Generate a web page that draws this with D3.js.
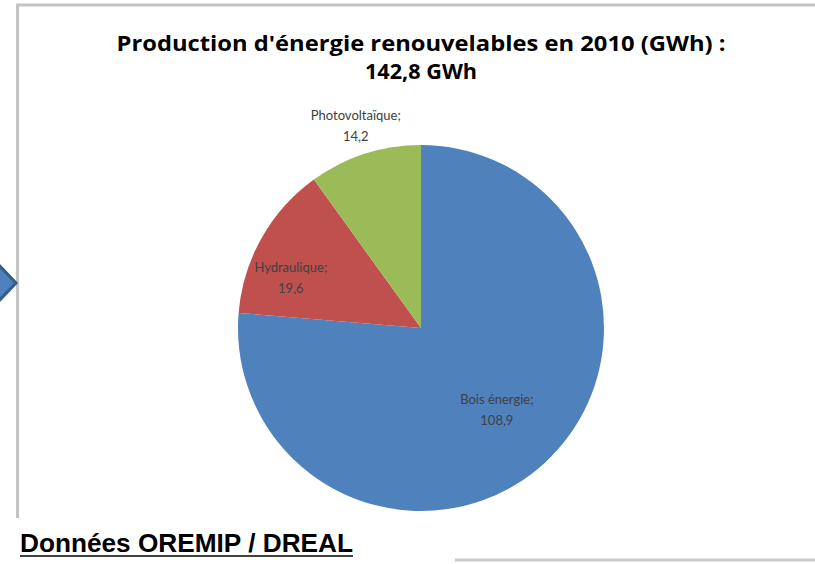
<!DOCTYPE html>
<html>
<head>
<meta charset="utf-8">
<script src="https://cdn.jsdelivr.net/npm/d3@7"></script>
<style>
  body { margin: 0; background: #fff; }
</style>
</head>
<body>
<div id="chart"></div>
<script>
// data
const categories = ["Bois énergie", "Hydraulique", "Photovoltaïque"];
const values = [108.9, 19.6, 14.2];
const valueLabels = ["108,9", "19,6", "14,2"];
const titleLines = ["Production d'énergie renouvelables en 2010 (GWh) :", "142,8 GWh"];
const sourceText = "Données OREMIP / DREAL";

const colors = ["#4F81BD", "#C0504D", "#9BBB59"];

const width = 815, height = 564;
const cx = 421, cy = 328, radius = 183;

const svg = d3.select("#chart").append("svg")
  .attr("width", width)
  .attr("height", height);

// chart frame (cropped screenshot look)
svg.append("line").attr("x1", 16).attr("x2", width).attr("y1", 5).attr("y2", 5)
  .attr("stroke", "#c4c4c4").attr("stroke-width", 3);
svg.append("line").attr("x1", 17.5).attr("x2", 17.5).attr("y1", 4).attr("y2", 518)
  .attr("stroke", "#c4c4c4").attr("stroke-width", 3);
svg.append("line").attr("x1", 455).attr("x2", width).attr("y1", 560).attr("y2", 560)
  .attr("stroke", "#c8c8c8").attr("stroke-width", 3);

// blue arrow peeking in from the left
svg.append("path")
  .attr("d", "M-10,262 L-4,262 L16,283 L-4,304 L-10,304 Z")
  .attr("fill", "#4F81BD")
  .attr("stroke", "#385D8A")
  .attr("stroke-width", 3);

// title
const titleY = [51, 79];
const titleW = [609, 112];
titleLines.forEach((line, i) => {
  svg.append("text")
    .attr("x", cx).attr("y", titleY[i])
    .attr("text-anchor", "middle")
    .attr("font-family", "'Open Sans', sans-serif")
    .attr("font-weight", "bold")
    .attr("font-size", 21)
    .attr("textLength", titleW[i])
    .attr("lengthAdjust", "spacingAndGlyphs")
    .attr("fill", "#000")
    .text(line);
});

// pie
const pie = d3.pie().sort(null).value(d => d);
const arc = d3.arc().innerRadius(0).outerRadius(radius);
const arcs = pie(values);

const g = svg.append("g").attr("transform", `translate(${cx},${cy})`);
g.selectAll("path.slice")
  .data(arcs)
  .join("path")
  .attr("class", "slice")
  .attr("d", arc)
  .attr("fill", (d, i) => colors[i]);

// label positions: inside for the big slices, outside for photovoltaique
const labelArc = [
  d3.arc().innerRadius(112).outerRadius(112),
  d3.arc().innerRadius(138).outerRadius(138),
  d3.arc().innerRadius(212).outerRadius(212)
];
const labelShift = [[0, 0], [-10, 18], [0, 0]];

arcs.forEach((d, i) => {
  const [lx0, ly0] = labelArc[i].centroid(d);
  const lx = lx0 + labelShift[i][0], ly = ly0 + labelShift[i][1];
  const t = g.append("text")
    .attr("text-anchor", "middle")
    .attr("font-family", "Lato, sans-serif")
    .attr("font-size", 13)
    .attr("fill", "#404040");
  t.append("tspan").attr("x", lx).attr("y", ly - 6).text(categories[i] + ";");
  t.append("tspan").attr("x", lx).attr("y", ly + 15).text(valueLabels[i]);
});

// source line under the frame
svg.append("text")
  .attr("x", 20).attr("y", 552)
  .attr("font-family", "'Liberation Sans Narrow', 'Arial Narrow', sans-serif")
  .attr("font-weight", "bold")
  .attr("font-size", 26)
  .attr("textLength", 333)
  .attr("lengthAdjust", "spacingAndGlyphs")
  .attr("fill", "#000")
  .text(sourceText);
svg.append("line").attr("x1", 20).attr("x2", 353).attr("y1", 556).attr("y2", 556)
  .attr("stroke", "#000").attr("stroke-width", 1.5);
</script>
</body>
</html>
